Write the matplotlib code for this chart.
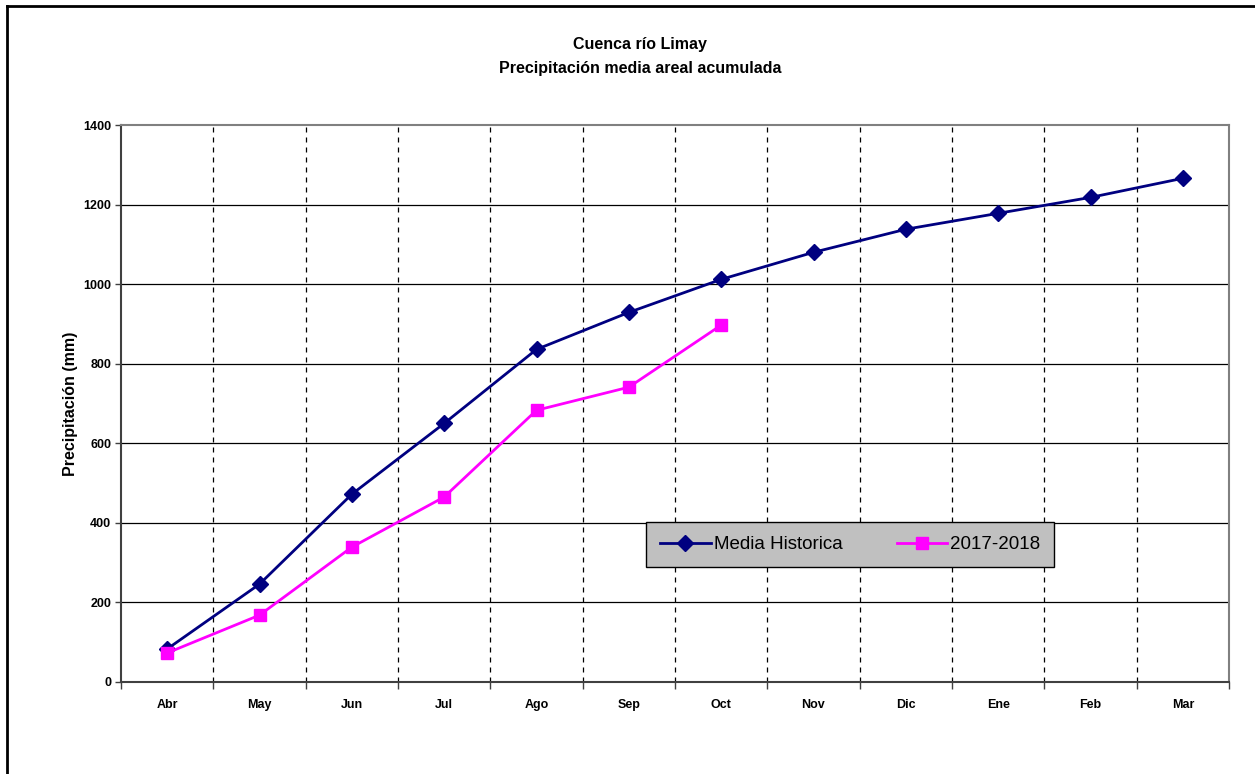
import matplotlib
matplotlib.use("Agg")
import matplotlib.pyplot as plt
from matplotlib.lines import Line2D

plt.rcParams['font.family'] = ['Liberation Sans', 'DejaVu Sans']

months = ["Abr", "May", "Jun", "Jul", "Ago", "Sep", "Oct", "Nov", "Dic", "Ene", "Feb", "Mar"]
media_historica = [83, 246, 472, 650, 836, 929, 1012, 1080, 1138, 1178, 1218, 1266]
serie_2017_2018 = [73, 168, 339, 465, 683, 741, 897]
yticks = [0, 200, 400, 600, 800, 1000, 1200, 1400]

fig = plt.figure(figsize=(12.55, 7.74), dpi=100)
fig.patch.set_facecolor("white")
# outer chart frame (left and top visible)
fig.add_artist(Line2D([7/1255, 7/1255], [0, 1 - 6/774], transform=fig.transFigure, color="black", lw=2))
fig.add_artist(Line2D([7/1255, 1], [1 - 6/774, 1 - 6/774], transform=fig.transFigure, color="black", lw=2))

ax = fig.add_axes([121/1255, 1 - 682/774, (1229 - 121)/1255, (682 - 125)/774])
x = list(range(len(months)))
ax.set_xlim(-0.5, len(months) - 0.5)
ax.set_ylim(0, 1400)

for yv in yticks[1:-1]:
    ax.axhline(yv, color="black", lw=0.9, zorder=1)
for i in range(len(months) - 1):
    ax.axvline(i + 0.5, color="black", lw=0.9, ls=(0, (4, 4)), zorder=1)

ax.plot(x, media_historica, color="#000080", lw=2, marker="D", ms=8, label="Media Historica", zorder=3)
ax.plot(x[:len(serie_2017_2018)], serie_2017_2018, color="#FF00FF", lw=2, marker="s", ms=9,
        label="2017-2018", zorder=4)

ax.set_xticks(x)
ax.set_xticklabels(months, fontsize=9, fontweight="bold")
ax.set_xticks([i - 0.5 for i in range(len(months) + 1)], minor=True)
ax.tick_params(axis="x", which="major", length=0, pad=12)
ax.tick_params(axis="x", which="minor", length=5, width=1, direction="out", color="#404040")
ax.set_yticks(yticks)
ax.set_yticklabels([str(v) for v in yticks], fontsize=9, fontweight="bold")
ax.tick_params(axis="y", length=4, width=1, direction="out", color="#404040", pad=3)

for s in ["left", "bottom"]:
    ax.spines[s].set_color("#404040")
    ax.spines[s].set_linewidth(1.5)
for s in ["top", "right"]:
    ax.spines[s].set_color("#808080")
    ax.spines[s].set_linewidth(1.5)

ax.set_ylabel("Precipitación (mm)", fontsize=11.5, fontweight="bold", labelpad=4)

fig.text(640/1255, 1 - 44/774, "Cuenca río Limay", ha="center", va="center", fontsize=11.5, fontweight="bold")
fig.text(640/1255, 1 - 68/774, "Precipitación media areal acumulada", ha="center", va="center",
         fontsize=11.5, fontweight="bold")

leg = ax.legend(loc="upper left", bbox_to_anchor=((646 - 121)/1108, (682 - 522)/557), ncol=2,
                frameon=True, fancybox=False, facecolor="#C0C0C0", edgecolor="black", framealpha=1,
                fontsize=13.5, handlelength=2.7, handletextpad=0.15, columnspacing=2.9,
                borderpad=0.75, borderaxespad=0)
leg.get_frame().set_linewidth(1)

fig.savefig("out.png", dpi=100)
